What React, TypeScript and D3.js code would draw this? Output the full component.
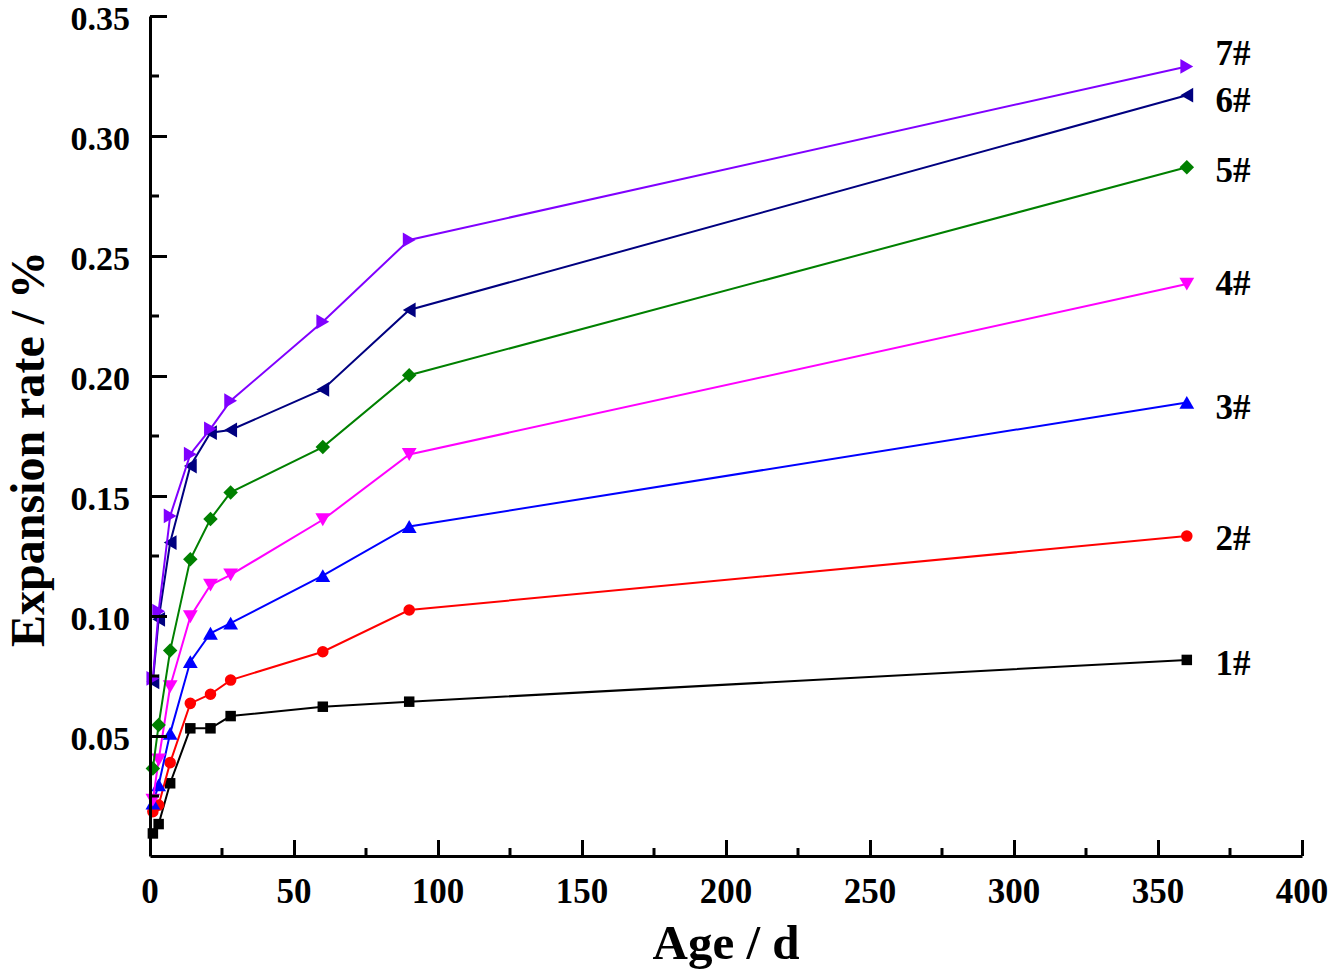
import React, { useEffect, useRef } from 'react';
import * as d3 from 'd3';

// Ages (days) at which expansion was measured
const ages = [1, 3, 7, 14, 21, 28, 60, 90, 360];

// Expansion rate (%) for each mix
const mix1 = [0.0094, 0.0133, 0.0303, 0.0532, 0.0532, 0.0583, 0.0622, 0.0643, 0.0817];
const mix2 = [0.0185, 0.0212, 0.0389, 0.0636, 0.0674, 0.0733, 0.0851, 0.1025, 0.1333];
const mix3 = [0.022, 0.0296, 0.0511, 0.081, 0.0928, 0.097, 0.1168, 0.1373, 0.189];
const mix4 = [0.0233, 0.04, 0.0706, 0.0997, 0.1129, 0.1171, 0.1401, 0.1673, 0.2383];
const mix5 = [0.0365, 0.0546, 0.0856, 0.1236, 0.1404, 0.1515, 0.1704, 0.2003, 0.287];
const mix6 = [0.0726, 0.0986, 0.1306, 0.1625, 0.1764, 0.1775, 0.1944, 0.2275, 0.317];
const mix7 = [0.074, 0.102, 0.1417, 0.1674, 0.178, 0.1897, 0.2226, 0.2567, 0.329];

const seriesNames = ['1#', '2#', '3#', '4#', '5#', '6#', '7#'];
// where the end labels sit (in expansion-rate units)
const labelValues = [0.0804, 0.1325, 0.1872, 0.2388, 0.2858, 0.315, 0.3346];
const labelAge = 370;

const xTicks = [0, 50, 100, 150, 200, 250, 300, 350, 400];
const xMinor = [25, 75, 125, 175, 225, 275, 325, 375];
const yTicks = [0.05, 0.1, 0.15, 0.2, 0.25, 0.3, 0.35];
const yMinor = [0.025, 0.075, 0.125, 0.175, 0.225, 0.275, 0.325];

const colors = ['#000000', '#ff0000', '#0000ff', '#ff00ff', '#008000', '#000080', '#8000ff'];

// bbox-centred triangle, rotated by angle (degrees, 0 = pointing up)
function triangle(angle: number): d3.SymbolType {
  return {
    draw(context, size) {
      const s = Math.sqrt((size * 4) / Math.sqrt(3));
      const h = (s * Math.sqrt(3)) / 2;
      const pts = [
        [0, -h / 2],
        [-s / 2, h / 2],
        [s / 2, h / 2]
      ];
      const a = (angle * Math.PI) / 180;
      pts.forEach(([px, py], i) => {
        const x = px * Math.cos(a) - py * Math.sin(a);
        const y = px * Math.sin(a) + py * Math.cos(a);
        if (i === 0) context.moveTo(x, y);
        else context.lineTo(x, y);
      });
      context.closePath();
    }
  };
}

const diamond: d3.SymbolType = {
  draw(context, size) {
    const r = Math.sqrt(size / 2);
    context.moveTo(0, -r);
    context.lineTo(r, 0);
    context.lineTo(0, r);
    context.lineTo(-r, 0);
    context.closePath();
  }
};

const symbols: Array<[d3.SymbolType, number]> = [
  [d3.symbolSquare, 110],
  [d3.symbolCircle, 105],
  [triangle(0), 95],
  [triangle(180), 95],
  [diamond, 105],
  [triangle(-90), 95],
  [triangle(90), 95]
];

const FONT = '"Liberation Serif", "Times New Roman", serif';

export default function App() {
  const svgRef = useRef<SVGSVGElement>(null);

  useEffect(() => {
    document.body.style.margin = '0';
    if (!svgRef.current) return;
    const svg = d3.select(svgRef.current);
    svg.selectAll('*').remove();

    const x = d3.scaleLinear().domain([0, 400]).range([150, 1302]);
    const y = d3.scaleLinear().domain([0, 0.35]).range([856, 16]);

    const allSeries = [mix1, mix2, mix3, mix4, mix5, mix6, mix7];

    // series
    allSeries.forEach((vals, i) => {
      const pts = ages.map((a, j) => [a, vals[j]] as [number, number]);
      const line = d3.line<[number, number]>()
        .x(d => x(d[0]))
        .y(d => y(d[1]));
      svg.append('path')
        .datum(pts)
        .attr('fill', 'none')
        .attr('stroke', colors[i])
        .attr('stroke-width', 2)
        .attr('d', line);

      const sym = d3.symbol().type(symbols[i][0]).size(symbols[i][1]);
      svg.append('g')
        .selectAll('path')
        .data(pts)
        .enter()
        .append('path')
        .attr('transform', d => `translate(${x(d[0])},${y(d[1])})`)
        .attr('fill', colors[i])
        .attr('d', sym);
    });

    // axes (ticks inside)
    const xAxis = svg.append('g').attr('transform', `translate(0,${y(0)})`);
    xAxis.call(
      d3.axisBottom(x).tickValues(xTicks).tickSize(-16).tickSizeOuter(0).tickPadding(0)
    );
    xAxis.selectAll('.tick text').remove();
    xAxis.selectAll('.tick line').attr('stroke-width', 3);
    xAxis.append('g')
      .selectAll('line')
      .data(xMinor)
      .enter()
      .append('line')
      .attr('x1', d => x(d))
      .attr('x2', d => x(d))
      .attr('y1', 0)
      .attr('y2', -8)
      .attr('stroke', '#000')
      .attr('stroke-width', 3);
    xAxis.select('.domain').attr('stroke-width', 3);

    const yAxis = svg.append('g').attr('transform', `translate(${x(0)},0)`);
    yAxis.call(
      d3.axisLeft(y).tickValues(yTicks).tickSize(-17).tickSizeOuter(0)
    );
    yAxis.selectAll('.tick text').remove();
    yAxis.selectAll('.tick line').attr('stroke-width', 3);
    yAxis.append('g')
      .selectAll('line')
      .data(yMinor)
      .enter()
      .append('line')
      .attr('x1', 0)
      .attr('x2', 9)
      .attr('y1', d => y(d))
      .attr('y2', d => y(d))
      .attr('stroke', '#000')
      .attr('stroke-width', 3);
    yAxis.select('.domain').attr('stroke-width', 3);

    // tick labels
    svg.append('g')
      .selectAll('text')
      .data(xTicks)
      .enter()
      .append('text')
      .attr('x', d => x(d))
      .attr('y', 903)
      .attr('text-anchor', 'middle')
      .attr('font-family', FONT)
      .attr('font-weight', 'bold')
      .attr('font-size', 35)
      .text(d => String(d));

    svg.append('g')
      .selectAll('text')
      .data(yTicks)
      .enter()
      .append('text')
      .attr('x', 130)
      .attr('y', d => y(d))
      .attr('dy', '0.42em')
      .attr('text-anchor', 'end')
      .attr('font-family', FONT)
      .attr('font-weight', 'bold')
      .attr('font-size', 34)
      .text(d => d3.format('.2f')(d));

    // end-of-line labels
    svg.append('g')
      .selectAll('text')
      .data(seriesNames)
      .enter()
      .append('text')
      .attr('x', x(labelAge))
      .attr('y', (_, i) => y(labelValues[i]))
      .attr('dy', '0.34em')
      .attr('font-family', FONT)
      .attr('font-weight', 'bold')
      .attr('font-size', 35)
      .text(d => d);

    // axis titles
    svg.append('text')
      .attr('x', (x(0) + x(400)) / 2)
      .attr('y', 959)
      .attr('text-anchor', 'middle')
      .attr('font-family', FONT)
      .attr('font-weight', 'bold')
      .attr('font-size', 49)
      .text('Age / d');

    svg.append('text')
      .attr('transform', `translate(44,${449}) rotate(-90)`)
      .attr('text-anchor', 'middle')
      .attr('font-family', FONT)
      .attr('font-weight', 'bold')
      .attr('font-size', 48)
      .text('Expansion rate / %');
  }, []);

  return (
    <svg
      ref={svgRef}
      width={1333}
      height={973}
      style={{ display: 'block', background: '#fff' }}
    />
  );
}
